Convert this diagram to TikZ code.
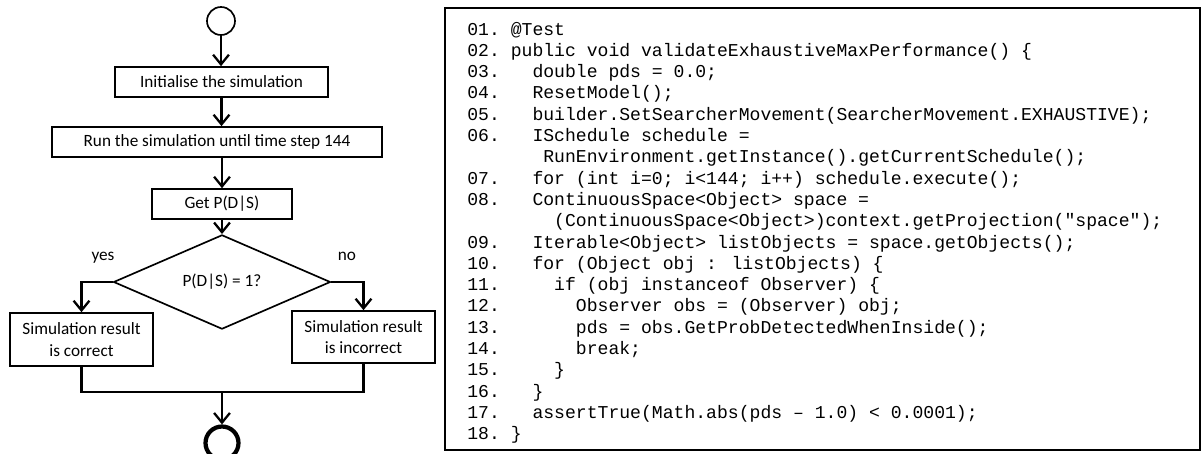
\documentclass[tikz,border=0pt]{standalone}
\usepackage{fontspec}
\setmainfont{Carlito}
\newfontfamily\codefont{Liberation Mono}
\usetikzlibrary{shapes.geometric,arrows.meta}

\begin{document}
\begin{tikzpicture}[x=0.02cm,y=-0.02cm,
    flowbox/.style={draw,line width=0.95pt,inner sep=0pt,font=\fontsize{9.8}{12.2}\selectfont,align=center},
    decision/.style={diamond,draw,line width=0.95pt,inner sep=0pt,minimum width=4.34cm,minimum height=1.22cm,font=\fontsize{9.8}{12.2}\selectfont},
    conn/.style={line width=1.3pt,-{Straight Barb[length=5.5pt,width=9pt,line width=1.3pt]}},
    joinline/.style={line width=1.3pt},
    codeline/.style={anchor=base west,inner sep=0pt,font=\codefont\fontsize{10.3}{12}\selectfont},
    branchlabel/.style={font=\fontsize{9.8}{12.2}\selectfont}]
    % Rögzítjük a kép méretét
    \useasboundingbox (0,0) rectangle (1202,453);
    % A folyamatábra csomópontjai
    \node[circle,draw,line width=0.95pt,minimum size=0.56cm,inner sep=0pt] (start) at (221,21) {};
    \node[flowbox,minimum width=4.26cm,minimum height=0.6cm] (init) at (221.5,82) {Initialise the simulation};
    \node[flowbox,minimum width=6.6cm,minimum height=0.6cm] (run) at (217,142) {Run the simulation until time step 144};
    \node[flowbox,minimum width=2.8cm,minimum height=0.6cm] (getp) at (222,204) {Get P(D|S)};
    \node[decision] (check) at (222,282) {P(D|S) = 1?};
    \node[flowbox,minimum width=2.86cm,minimum height=1.06cm] (correct) at (81.5,339.5) {Simulation result\\is correct};
    \node[flowbox,minimum width=2.86cm,minimum height=1.04cm] (incorrect) at (363.5,337) {Simulation result\\is incorrect};
    \node[circle,draw,line width=2.4pt,minimum size=0.66cm,inner sep=0pt] (stop) at (222,443) {};
    % Az ágak feliratai
    \node[branchlabel] (yes) at (103,258) {yes};
    \node[branchlabel] (no) at (347,256) {no};
    % Összekötjük a lépéseket
    \draw[conn] (start) -- (start |- init.north);
    \draw[conn] (init.south) -- (init.south |- run.north);
    \draw[conn] (getp.north |- run.south) -- (getp.north);
    \draw[conn] (getp.south) -- (check.north);
    \draw[conn] (check.west) -| (correct.north);
    \draw[conn] (check.east) -| (incorrect.north);
    % Az ágak újra összefutnak
    \coordinate (join) at (222,392);
    \draw[joinline] (correct.south) |- (join) -| (incorrect.south);
    \draw[conn] (join) -- (stop.north);
    % A teszt kódja keretben
    \draw[line width=1.4pt] (445,8) rectangle (1200,450);
    \node[codeline] (l01) at (467,35) {01.~@Test};
    \node[codeline] (l02) at (467,56.3) {02.~public void validateExhaustiveMaxPerformance() \{};
    \node[codeline] (l03) at (467,77.6) {03.~~~double pds = 0.0;};
    \node[codeline] (l04) at (467,98.9) {04.~~~ResetModel();};
    \node[codeline] (l05) at (467,120.2) {05.~~~builder.SetSearcherMovement(SearcherMovement.EXHAUSTIVE);};
    \node[codeline] (l06) at (467,141.5) {06.~~~ISchedule schedule =};
    \node[codeline] (l06b) at (467,162.8) {~~~~~~~RunEnvironment.getInstance().getCurrentSchedule();};
    \node[codeline] (l07) at (467,184.1) {07.~~~for (int i=0; i<144; i++) schedule.execute();};
    \node[codeline] (l08) at (467,205.4) {08.~~~ContinuousSpace<Object> space =};
    \node[codeline] (l08b) at (467,226.7) {~~~~~~~~(ContinuousSpace<Object>)context.getProjection("space");};
    \node[codeline] (l09) at (467,248) {09.~~~Iterable<Object> listObjects = space.getObjects();};
    \node[codeline] (l10) at (467,269.3) {10.~~~for (Object obj : listObjects) \{};
    \node[codeline] (l11) at (467,290.6) {11.~~~~~if (obj instanceof Observer) \{};
    \node[codeline] (l12) at (467,311.9) {12.~~~~~~~Observer obs = (Observer) obj;};
    \node[codeline] (l13) at (467,333.2) {13.~~~~~~~pds = obs.GetProbDetectedWhenInside();};
    \node[codeline] (l14) at (467,354.5) {14.~~~~~~~break;};
    \node[codeline] (l15) at (467,375.8) {15.~~~~~\}};
    \node[codeline] (l16) at (467,397.1) {16.~~~\}};
    \node[codeline] (l17) at (467,418.4) {17.~~~assertTrue(Math.abs(pds – 1.0) < 0.0001);};
    \node[codeline] (l18) at (467,439.7) {18.~\}};
\end{tikzpicture}
\end{document}
